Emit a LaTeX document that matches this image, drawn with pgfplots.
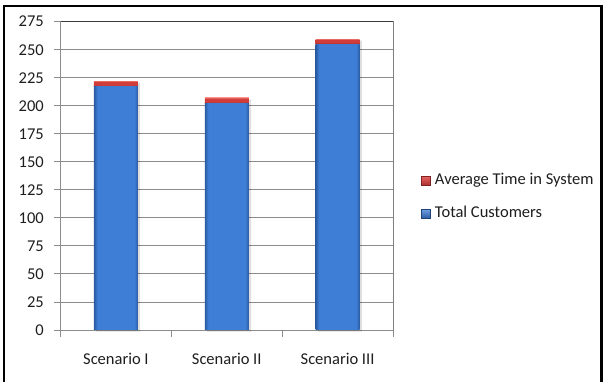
\documentclass[border=0pt]{standalone}
\usepackage{fontspec}
\setmainfont{Carlito}
\usepackage{pgfplots}
\pgfplotsset{compat=1.18}

\definecolor{gridgray}{HTML}{8C8C8C}
\definecolor{framedark}{HTML}{3A3A3A}
\definecolor{txt}{HTML}{1E1E1E}
\definecolor{blueedge}{HTML}{2A5AA2}
\definecolor{bluemid}{HTML}{3E7ED6}
\definecolor{redtop}{HTML}{E66461}
\definecolor{redmid}{HTML}{D03D3A}
\definecolor{redbot}{HTML}{A92E2C}

% cylinder-like bar body: flat centre, darker at both sides
\pgfdeclarehorizontalshading{barblue}{100bp}{color(0bp)=(blueedge); color(25bp)=(blueedge);
  color(29bp)=(bluemid); color(71bp)=(bluemid); color(75bp)=(blueedge); color(100bp)=(blueedge)}
\pgfdeclareverticalshading{barred}{100bp}{color(0bp)=(redbot); color(25bp)=(redbot);
  color(45bp)=(redmid); color(68bp)=(redmid); color(75bp)=(redtop); color(100bp)=(redtop)}

\pgfplotsset{
  chartgeom/.style={
    at={(60.5pt,-330pt)}, anchor=south west,
    scale only axis, width=332.5pt, height=308.3pt,
    xmin=-0.5, xmax=2.5, ymin=0, ymax=275},
  barlayer/.style={chartgeom, hide axis, ybar stacked, bar width=44pt},
  custbar/.style={ybar, draw=none, shading=barblue},
  timebar/.style={ybar, draw=none, shading=barred},
}

\begin{document}
\begin{tikzpicture}
\useasboundingbox (0pt,0pt) rectangle (603pt,-382pt);
% outer frame
\draw[line width=2.6pt, black] (4pt,-390pt) -- (4pt,-6pt) -- (601.3pt,-6pt) -- (601.3pt,-390pt);

% grid, ticks, labels and legend
\begin{axis}[
  chartgeom,
  font=\fontsize{16.5}{19}\selectfont,
  /pgf/number format/assume math mode=true,
  ytick={0,25,...,275},
  ymajorgrids, grid style={gridgray, line width=0.9pt},
  axis line style={gridgray, line width=0.9pt},
  tick style={gridgray, line width=0.9pt},
  tick align=outside, major tick length=6.5pt,
  xtick pos=bottom, ytick pos=left,
  xtick={-0.5,0.5,1.5,2.5}, xticklabels={},
  extra x ticks={0,1,2},
  extra x tick labels={Scenario I, Scenario II, Scenario III},
  extra x tick style={major tick length=0pt, grid=none,
    tick label style={anchor=base, yshift=-34pt, text=txt}},
  y tick label style={anchor=east, inner sep=0pt, text=txt},
  yticklabel style={xshift=-10pt},
  legend cell align=left,
  legend style={draw=none, fill=none, inner sep=0pt, outer sep=0pt,
    at={(axis description cs:1,0.5)}, anchor=west, xshift=28pt, yshift=-21.5pt,
    row sep=18pt, column sep=0pt, text=txt,
    nodes={inner sep=0pt, text height=11.5pt, text depth=3.5pt},
    /tikz/every odd column/.append style={column sep=4.5pt}},
]
\addlegendimage{legend image code/.code={\path[draw=redbot!75!black, line width=0.5pt,
    top color=redtop, bottom color=redbot] (0pt,-4.5pt) rectangle (9pt,4.5pt);}}
\addlegendentry{Average Time in System}
\addlegendimage{legend image code/.code={\path[draw=blueedge!75!black, line width=0.5pt,
    top color=bluemid!75!white, bottom color=blueedge] (0pt,-4.5pt) rectangle (9pt,4.5pt);}}
\addlegendentry{Total Customers}
\end{axis}

% soft shadow behind the columns
\begin{axis}[barlayer, at={(62.8pt,-331.6pt)}]
\addplot[ybar, draw=none, fill=black, fill opacity=0.13] coordinates {(0,217) (1,202) (2,255)};
\addplot[ybar, draw=none, fill=black, fill opacity=0.13] coordinates {(0,5) (1,5) (2,4.5)};
\end{axis}

% Scenario I
\begin{axis}[barlayer]
\addplot[custbar] coordinates {(0,217)};
\addplot[timebar] coordinates {(0,5)};
\end{axis}
% Scenario II
\begin{axis}[barlayer]
\addplot[custbar] coordinates {(1,202)};
\addplot[timebar] coordinates {(1,5)};
\end{axis}
% Scenario III
\begin{axis}[barlayer]
\addplot[custbar] coordinates {(2,255)};
\addplot[timebar] coordinates {(2,4.5)};
% plot area border, darker along the top and right
\draw[framedark, line width=1pt] (rel axis cs:0,1) -- (rel axis cs:1,1) -- (rel axis cs:1,0);
\end{axis}
\end{tikzpicture}
\end{document}
